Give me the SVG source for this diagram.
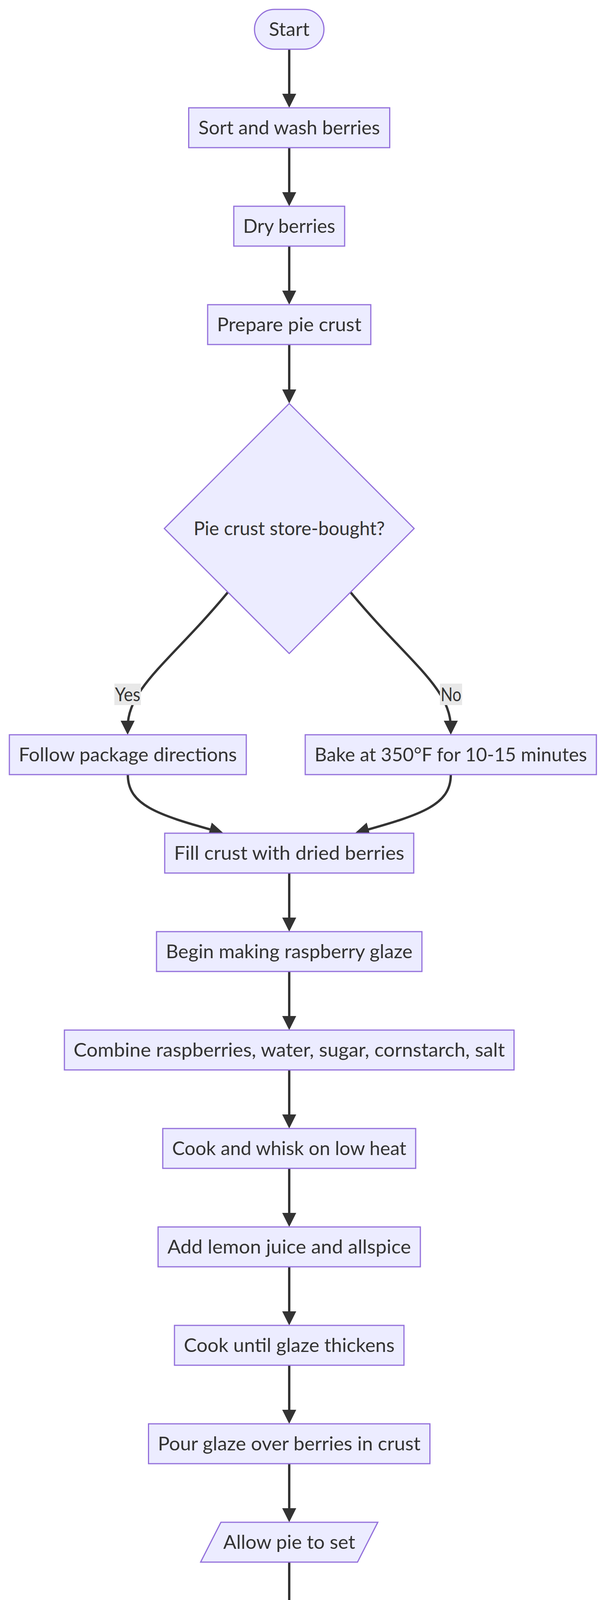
<svg xmlns="http://www.w3.org/2000/svg" width="1568" height="5238" viewBox="0 0 1568 5238">
<style>
.n{fill:#ECECFF;stroke:#9370DB;stroke-width:3}
.t{font-family:Lato,"Liberation Sans","DejaVu Sans",sans-serif;font-size:48px;fill:#333333;text-anchor:middle}
.e{fill:none;stroke:#333333;stroke-width:6;marker-end:url(#arr)}
.lb{fill:#e8e8e8}
</style>
<defs>
<marker id="arr" markerUnits="userSpaceOnUse" markerWidth="36" markerHeight="36" refX="18" refY="18" orient="auto" viewBox="0 0 36 36">
<path d="M0,0 L36,18 L0,36 z" fill="#333333"/>
</marker>
</defs>
<rect width="1568" height="5238" fill="#ffffff"/>
<g id="connectors">
<path class="e" d="M741,126 L741,258"/>
<path class="e" d="M741,378 L741,510"/>
<path class="e" d="M741,630 L741,762"/>
<path class="e" d="M741,882 L741,1015"/>
<path class="e" d="M584,1516 C440,1690 327,1760 327,1863"/>
<path class="e" d="M898,1516 C1042,1690 1155,1760 1155,1863"/>
<path class="e" d="M327.5,1983 C327.5,2060 400,2085 555,2128"/>
<path class="e" d="M1155,1983 C1155,2060 1082,2085 927,2128"/>
<path class="e" d="M741,2235 L741,2367"/>
<path class="e" d="M741,2487 L741,2619"/>
<path class="e" d="M741,2739 L741,2871"/>
<path class="e" d="M741,2991 L741,3123"/>
<path class="e" d="M741,3243 L741,3375"/>
<path class="e" d="M741,3495 L741,3627"/>
<path class="e" d="M741,3747 L741,3879"/>
<path class="e" d="M741,3999 L741,4131"/>
<path class="e" d="M648,4507 C570,4615 503,4700 503,4857 C503,4980 550,5020 642,5059"/>
<path class="e" d="M836,4505 C920,4620 980,4690 980,4787"/>
<path class="e" d="M980,4907 C980,4990 940,5020 840,5058"/>
<g id="edge-labels">
<rect class="lb" x="293" y="1750" width="68" height="55"/>
<text class="t" x="327" y="1794.5" textLength="65" lengthAdjust="spacingAndGlyphs">Yes</text>
<rect class="lb" x="1127" y="1750" width="57" height="55"/>
<text class="t" x="1155.5" y="1794.5" textLength="53" lengthAdjust="spacingAndGlyphs">No</text>
<rect class="lb" x="946" y="4675" width="68" height="55"/>
<text class="t" x="980" y="4719.5" textLength="65" lengthAdjust="spacingAndGlyphs">Yes</text>
<rect class="lb" x="474" y="4829" width="57" height="55"/>
<text class="t" x="502.5" y="4873.5" textLength="53" lengthAdjust="spacingAndGlyphs">No</text>
</g>
</g>
<g id="start">
<rect class="n" x="652" y="24" width="178" height="102" rx="51" ry="51"/>
<text class="t" x="741" y="92" textLength="104" lengthAdjust="spacingAndGlyphs">Start</text>
</g>
<g id="sort">
<rect class="n" x="483.5" y="276" width="515" height="102"/>
<text class="t" x="741" y="344" textLength="465" lengthAdjust="spacingAndGlyphs">Sort and wash berries</text>
</g>
<g id="dry">
<rect class="n" x="599" y="528" width="284" height="102"/>
<text class="t" x="741" y="596" textLength="236" lengthAdjust="spacingAndGlyphs">Dry berries</text>
</g>
<g id="prepare">
<rect class="n" x="532" y="780" width="418" height="102"/>
<text class="t" x="741" y="848" textLength="370" lengthAdjust="spacingAndGlyphs">Prepare pie crust</text>
</g>
<g id="storebought">
<polygon class="n" points="741,1033 1061,1353 741,1673 421,1353"/>
<text class="t" x="741" y="1370" textLength="490" lengthAdjust="spacingAndGlyphs">Pie crust store-bought?</text>
</g>
<g id="follow">
<rect class="n" x="24" y="1881" width="607" height="102"/>
<text class="t" x="327.5" y="1949" textLength="559" lengthAdjust="spacingAndGlyphs">Follow package directions</text>
</g>
<g id="bake">
<rect class="n" x="782" y="1881" width="746" height="102"/>
<text class="t" x="1155" y="1949" textLength="698" lengthAdjust="spacingAndGlyphs">Bake at 350°F for 10-15 minutes</text>
</g>
<g id="fill">
<rect class="n" x="422" y="2133" width="638" height="102"/>
<text class="t" x="741" y="2201" textLength="590" lengthAdjust="spacingAndGlyphs">Fill crust with dried berries</text>
</g>
<g id="begin">
<rect class="n" x="401" y="2385" width="680" height="102"/>
<text class="t" x="741" y="2453" textLength="632" lengthAdjust="spacingAndGlyphs">Begin making raspberry glaze</text>
</g>
<g id="combine">
<rect class="n" x="165" y="2637" width="1152" height="102"/>
<text class="t" x="741" y="2705" textLength="1105" lengthAdjust="spacingAndGlyphs">Combine raspberries, water, sugar, cornstarch, salt</text>
</g>
<g id="cookwhisk">
<rect class="n" x="417" y="2889" width="648" height="102"/>
<text class="t" x="741" y="2957" textLength="600" lengthAdjust="spacingAndGlyphs">Cook and whisk on low heat</text>
</g>
<g id="lemon">
<rect class="n" x="405" y="3141" width="672" height="102"/>
<text class="t" x="741" y="3209" textLength="624" lengthAdjust="spacingAndGlyphs">Add lemon juice and allspice</text>
</g>
<g id="cookuntil">
<rect class="n" x="447" y="3393" width="588" height="102"/>
<text class="t" x="741" y="3461" textLength="540" lengthAdjust="spacingAndGlyphs">Cook until glaze thickens</text>
</g>
<g id="pour">
<rect class="n" x="380.5" y="3645" width="721" height="102"/>
<text class="t" x="741" y="3713" textLength="673" lengthAdjust="spacingAndGlyphs">Pour glaze over berries in crust</text>
</g>
<g id="allow">
<polygon class="n" points="566,3897 968,3897 916,3999 514,3999"/>
<text class="t" x="741" y="3965" textLength="338" lengthAdjust="spacingAndGlyphs">Allow pie to set</text>
</g>
<g id="leftovers">
<polygon class="n" points="741,4149 966,4374 741,4599 516,4374"/>
<text class="t" x="741" y="4391" textLength="300" lengthAdjust="spacingAndGlyphs">Any leftovers?</text>
</g>
<g id="store">
<rect class="n" x="635" y="4805" width="690" height="102"/>
<text class="t" x="980" y="4873" textLength="642" lengthAdjust="spacingAndGlyphs">Store leftovers in refrigerator</text>
</g>
<g id="end">
<rect class="n" x="666" y="5057" width="150" height="102" rx="51" ry="51"/>
<text class="t" x="741" y="5125" textLength="76" lengthAdjust="spacingAndGlyphs">End</text>
</g>
</svg>
